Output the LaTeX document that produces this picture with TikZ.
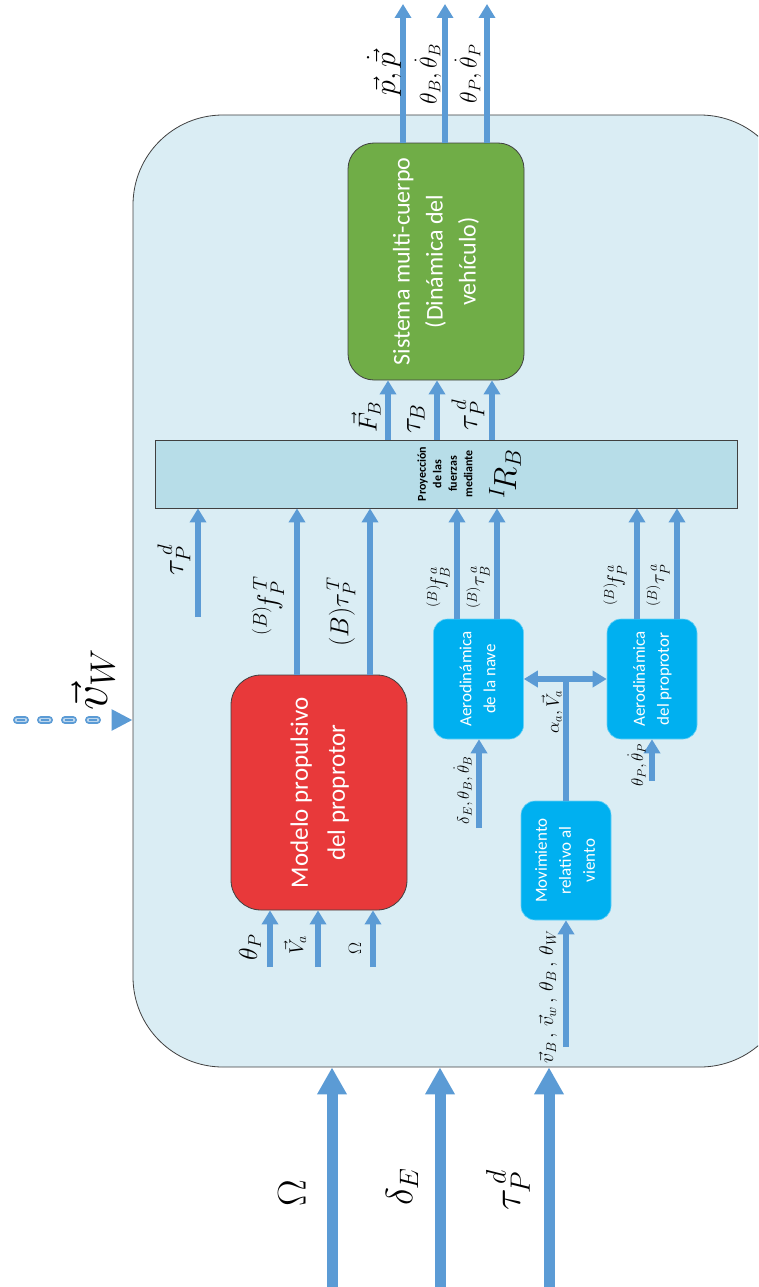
\RequirePackage{fix-cm}
\documentclass[tikz,border=0pt]{standalone}
\usepackage{amsmath}
\usepackage{fontspec}
\usepackage{graphicx}
\usepackage{tikz}
\usetikzlibrary{arrows.meta}
\newfontfamily\boxfont{Carlito}
\definecolor{panelBlue}{HTML}{DAEDF4}
\definecolor{barBlue}{HTML}{B7DDE8}
\definecolor{bodyGreen}{HTML}{70AD47}
\definecolor{propRed}{HTML}{E8393A}
\definecolor{aeroCyan}{HTML}{00B0F0}
\definecolor{flowBlue}{HTML}{5B9BD5}
\definecolor{edgeGray}{HTML}{404040}
\newcommand{\lblsize}[1]{\fontsize{#1}{#1}\selectfont}
\newcommand{\rotlines}[1]{\rotatebox{90}{\begin{tabular}{@{}c@{}}#1\end{tabular}}}

\begin{document}
\begin{tikzpicture}[x=1pt, y=-1pt,
			panel/.style={shape=rectangle, fill=panelBlue, draw=edgeGray, line width=0.8pt, rounded corners=90pt},
			block/.style={shape=rectangle, inner sep=0pt, font=\boxfont, text=white},
			aero/.style={block, fill=aeroCyan, draw=aeroCyan!60!white, line width=0.6pt, rounded corners=14pt,
				minimum width=90pt, minimum height=120pt, font=\boxfont\fontsize{17}{24}\selectfont},
			flow/.style={draw=flowBlue, line width=5.5pt, -{Triangle[width=16pt,length=14pt]}},
			bigflow/.style={draw=flowBlue, line width=11pt, -{Triangle[width=28pt,length=27pt]}},
			windflow/.style={draw=flowBlue, line width=8pt, line cap=round, dash pattern=on 8pt off 16pt},
			lbl/.style={rotate=90, inner sep=0pt}]
\path[use as bounding box] (0,0) rectangle (758,1287);
\clip (0,0) rectangle (758,1287);

% vehicle panel
\node[panel, minimum width=657pt, minimum height=952pt] (panel) at (461.5,591) {};

% blocks
\node[block, fill=bodyGreen, draw=edgeGray, line width=0.8pt, rounded corners=26pt,
	minimum width=176pt, minimum height=237pt, font=\boxfont\fontsize{24}{33}\selectfont]
	(multibody) at (436,261.5) {\rotlines{Sistema multi-cuerpo\\(Dinámica del\\vehículo)}};
\node[block, fill=barBlue, draw=edgeGray, line width=0.8pt, text=black,
	minimum width=582pt, minimum height=68pt, font=\boxfont\bfseries\fontsize{12}{15.5}\selectfont]
	(bar) at (446,474) {\rotlines{Proyección\\de las\\fuerzas\\mediante}};
\node[lbl, font=\lblsize{32}] (barRot) at (505,474) {$^{I}\!R_B$};
\node[block, fill=propRed, draw=edgeGray, line width=0.8pt, rounded corners=30pt,
	minimum width=176pt, minimum height=235pt, font=\boxfont\fontsize{25}{37}\selectfont]
	(thrust) at (319,792.5) {\rotlines{Modelo propulsivo\\del proprotor}};
\node[aero] (aeroBody) at (478.5,679) {\rotlines{Aerodinámica\\de la nave}};
\node[aero] (aeroProp) at (652,679) {\rotlines{Aerodinámica\\del proprotor}};
\node[aero, minimum height=119pt] (relWind) at (566,860.5) {\rotlines{Movimiento\\relativo al\\viento}};

% free ends
\coordinate (outPos) at (403,4);
\coordinate (outAttB) at (445,4);
\coordinate (outAttP) at (487,4);
\coordinate (xForce) at (388,0);
\coordinate (xTorque) at (437,0);
\coordinate (xTorqueP) at (492,0);
\coordinate (inTauP) at (198,617);
\coordinate (xThrF) at (297,0);
\coordinate (xThrT) at (370,0);
\coordinate (xAbF) at (457,0);
\coordinate (xAbT) at (497,0);
\coordinate (xApF) at (637,0);
\coordinate (xApT) at (677,0);
\coordinate (inThP) at (270,967);
\coordinate (inVa) at (318,967);
\coordinate (inOm) at (373,967);
\coordinate (inBody) at (479,828);
\coordinate (inProp) at (652,781);
\coordinate (inWind) at (566,1047);
\coordinate (extOm) at (332,1287);
\coordinate (extDelta) at (440,1287);
\coordinate (extTau) at (549,1287);
\coordinate (windFrom) at (17,720);

% outputs
\draw[flow] (multibody.north -| outPos) -- (outPos);
\draw[flow] (multibody.north -| outAttB) -- (outAttB);
\draw[flow] (multibody.north -| outAttP) -- (outAttP);
\node[lbl, font=\lblsize{30}] (lblPos) at (384,74) {$\vec{p},\dot{\vec{p}}$};
\node[lbl, font=\lblsize{24}] (lblAttB) at (428,74) {$\theta_B,\dot{\theta}_B$};
\node[lbl, font=\lblsize{24}] (lblAttP) at (468,74) {$\theta_P,\dot{\theta}_P$};

% projected loads
\draw[flow] (bar.north -| xForce) -- (multibody.south -| xForce);
\draw[flow] (bar.north -| xTorque) -- (multibody.south -| xTorque);
\draw[flow] (bar.north -| xTorqueP) -- (multibody.south -| xTorqueP);
\node[lbl, font=\lblsize{26}] (lblFB) at (366,417) {$\vec{F}_B$};
\node[lbl, font=\lblsize{30}] (lblTauB) at (416,419) {$\tau_B$};
\node[lbl, font=\lblsize{30}] (lblTauPd) at (468,415) {$\tau_P^{\,d}$};

% loads into the projection
\draw[flow] (inTauP) -- (bar.south -| inTauP);
\draw[flow] (thrust.north -| xThrF) -- (bar.south -| xThrF);
\draw[flow] (thrust.north -| xThrT) -- (bar.south -| xThrT);
\draw[flow] (aeroBody.north -| xAbF) -- (bar.south -| xAbF);
\draw[flow] (aeroBody.north -| xAbT) -- (bar.south -| xAbT);
\draw[flow] (aeroProp.north -| xApF) -- (bar.south -| xApF);
\draw[flow] (aeroProp.north -| xApT) -- (bar.south -| xApT);
\node[lbl, font=\lblsize{30}] (lblTauIn) at (174,560) {$\tau_P^{\,d}$};
\node[lbl, font=\lblsize{28}] (lblThrF) at (268,606) {${}^{(B)}\!f_P^{\,T}$};
\node[lbl, font=\lblsize{26}] (lblThrT) at (341,612) {$(B)\tau_P^{\,T}$};
\node[lbl, font=\lblsize{20}] (lblAbF) at (438,587) {${}^{(B)}\!f_B^{\,a}$};
\node[lbl, font=\lblsize{20}] (lblAbT) at (478,587) {${}^{(B)}\tau_B^{\,a}$};
\node[lbl, font=\lblsize{20}] (lblApF) at (615,585) {${}^{(B)}\!f_P^{\,a}$};
\node[lbl, font=\lblsize{20}] (lblApT) at (658,585) {${}^{(B)}\tau_P^{\,a}$};

% propulsion inputs
\draw[flow] (inThP) -- (thrust.south -| inThP);
\draw[flow] (inVa) -- (thrust.south -| inVa);
\draw[flow] (inOm) -- (thrust.south -| inOm);
\node[lbl, font=\lblsize{26}] (lblThP) at (250,947) {$\theta_P$};
\node[lbl, font=\lblsize{20}] (lblVa) at (295,945) {$\vec{V}_a$};
\node[lbl, font=\lblsize{18}] (lblOm) at (355,948) {$\Omega$};

% aerodynamics inputs
\draw[flow] (inBody) -- (aeroBody.south -| inBody);
\draw[flow] (inProp) -- (aeroProp.south -| inProp);
\node[lbl, font=\lblsize{17}] (lblBodyIn) at (463,790) {$\delta_E,\theta_B,\dot{\theta}_B$};
\node[lbl, font=\lblsize{17}] (lblPropIn) at (637,765) {$\theta_P,\dot{\theta}_P$};

% relative wind
\draw[flow] (inWind) -- (relWind.south);
\draw[flowBlue, line width=5.5pt] (relWind.north) -- (relWind.north |- aeroBody.east);
\draw[flow, {Triangle[width=16pt,length=14pt]}-{Triangle[width=16pt,length=14pt]}] (aeroBody.east) -- (aeroProp.west);
\node[lbl, font=\lblsize{18}] (lblAlpha) at (552,712) {$\alpha_a,\vec{V}_a$};
\node[lbl, font=\lblsize{20}] (lblWindIn) at (548,997) {$\vec{v}_B\,,\,\vec{v}_w\,,\,\theta_B\,,\,\theta_W$};

% commands from outside
\draw[bigflow] (extOm) -- (panel.south -| extOm);
\draw[bigflow] (extDelta) -- (panel.south -| extDelta);
\draw[bigflow] (extTau) -- (panel.south -| extTau);
\node[lbl, font=\lblsize{40}] (lblExtOm) at (292,1193) {$\Omega$};
\node[lbl, font=\lblsize{38}] (lblExtDelta) at (402,1187) {$\delta_E$};
\node[lbl, font=\lblsize{40}] (lblExtTau) at (508,1190) {$\tau_P^{\,d}$};

% wind disturbance
\draw[windflow, -{Triangle[width=20pt,length=21pt]}] (windFrom) -- (panel.west |- windFrom);
\draw[windflow, draw=white!60!flowBlue, line width=4.5pt, shorten >=21pt] (windFrom) -- (panel.west |- windFrom);
\draw[windflow, line width=1.3pt, line cap=butt, shorten >=21pt] (windFrom) -- (panel.west |- windFrom);
\node[lbl, font=\lblsize{50}] (lblWind) at (93,680) {$\vec{v}_W$};
\end{tikzpicture}
\end{document}
